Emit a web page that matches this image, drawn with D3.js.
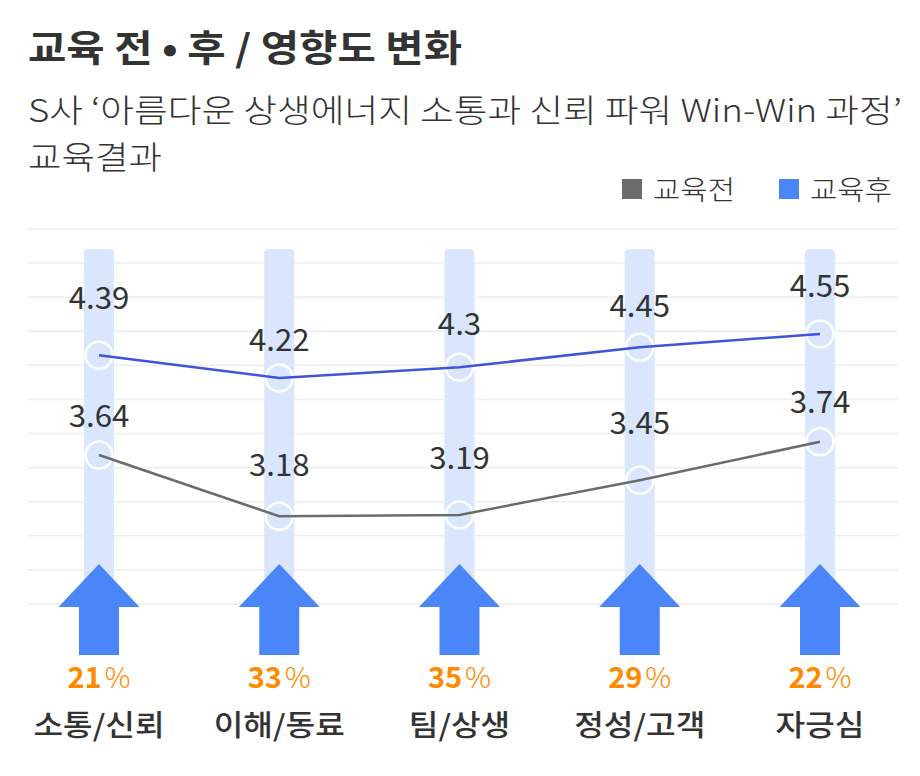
<!DOCTYPE html>
<html>
<head>
<meta charset="utf-8">
<script src="https://cdn.jsdelivr.net/npm/d3@7"></script>
<style>
  body { margin: 0; background: #fff; }
  svg { font-family: "Noto Sans CJK KR", "Noto Sans", sans-serif; display: block; }
  .title { font-size: 37px; font-weight: 700; fill: #333; }
  .subtitle { font-size: 32px; font-weight: 300; fill: #333; }
  .legend { font-size: 27px; font-weight: 300; fill: #333; }
  .value { font-size: 30px; fill: #333; }
  .pct { font-size: 29px; fill: #ff8a00; }
  .cat { font-size: 29px; font-weight: 500; fill: #333; }
</style>
</head>
<body>
<svg id="chart"></svg>
<script>
//data//
var categories = ["소통/신뢰", "이해/동료", "팀/상생", "정성/고객", "자긍심"];
var beforeValues = [3.64, 3.18, 3.19, 3.45, 3.74];
var afterValues = [4.39, 4.22, 4.3, 4.45, 4.55];
var increasePct = [21, 33, 35, 29, 22];
var seriesNames = ["교육전", "교육후"];

//how far each value label sits above its point (hand placed in original)
var beforeLift = [28, 40, 46, 46, 29];
var afterLift = [46, 27, 32, 30, 37];

var screen = { width: 920, height: 776 };
var colors = { before: "#6b6b6b", after: "#3d55d6", arrow: "#4a86f8", bar: "#d9e6fd" };

var svg = d3.select("#chart").attr("width", screen.width).attr("height", screen.height);

//original font is wider than Noto, so stretch text horizontally
var widen = function (sel, k) {
  sel.each(function () {
    var w = this.getComputedTextLength();
    d3.select(this).attr("textLength", w * k).attr("lengthAdjust", "spacingAndGlyphs");
  });
};

//titles//
svg.append("text").classed("title", true).attr("x", 28).attr("y", 62)
  .text("교육 전 • 후 / 영향도 변화")
  .attr("textLength", 434).attr("lengthAdjust", "spacingAndGlyphs");
svg.append("text").classed("subtitle", true).attr("x", 28).attr("y", 122)
  .text("S사 ‘아름다운 상생에너지 소통과 신뢰 파워 Win-Win 과정’")
  .attr("textLength", 874).attr("lengthAdjust", "spacingAndGlyphs");
svg.append("text").classed("subtitle", true).attr("x", 28).attr("y", 169)
  .text("교육결과")
  .attr("textLength", 134).attr("lengthAdjust", "spacingAndGlyphs");

//legend//
var legend = svg.append("g");
var legendX = [622, 779];
var legendColors = [colors.before, "#4a86f8"];
seriesNames.forEach(function (name, i) {
  legend.append("rect").attr("x", legendX[i]).attr("y", 179).attr("width", 20).attr("height", 20)
    .attr("fill", legendColors[i]);
  legend.append("text").classed("legend", true).attr("x", legendX[i] + 31).attr("y", 200).text(name)
    .attr("textLength", 82).attr("lengthAdjust", "spacingAndGlyphs");
});

//scales//
var xScale = d3.scalePoint().domain(categories).range([99, 820]);
var yScale = d3.scaleLinear().domain([2.5, 5.5]).range([606.7, 207.6]);

//grid lines//
var gridYs = d3.range(12).map(function (i) { return 229 + i * (604 - 229) / 11; });
svg.append("g").selectAll("line").data(gridYs).enter().append("line")
  .attr("x1", 27).attr("x2", 898)
  .attr("y1", function (d) { return d; }).attr("y2", function (d) { return d; })
  .attr("stroke", "#eeeeee").attr("stroke-width", 1.5);

//light column behind each category
svg.append("g").selectAll("path").data(categories).enter().append("path")
  .attr("fill", colors.bar)
  .attr("d", function (c) {
    var x = xScale(c) - 15, w = 30, top = 249, bot = 610, r = 4;
    return "M" + x + "," + bot + "V" + (top + r) + "Q" + x + "," + top + " " + (x + r) + "," + top +
      "H" + (x + w - r) + "Q" + (x + w) + "," + top + " " + (x + w) + "," + (top + r) + "V" + bot + "Z";
  });

//arrows//
svg.append("g").selectAll("path").data(categories).enter().append("path")
  .attr("fill", colors.arrow)
  .attr("d", function (c) {
    var cx = xScale(c);
    return "M" + cx + ",564L" + (cx + 40.5) + ",607H" + (cx + 20) + "V655H" + (cx - 20) +
      "V607H" + (cx - 40.5) + "Z";
  });

//points + lines//
var drawSeries = function (values, color, lift) {
  var pts = values.map(function (v, i) { return [xScale(categories[i]), yScale(v)]; });
  var g = svg.append("g");
  g.selectAll("circle").data(pts).enter().append("circle")
    .attr("cx", function (p) { return p[0]; }).attr("cy", function (p) { return p[1]; })
    .attr("r", 13.5).attr("fill", "none").attr("stroke", "#fff").attr("stroke-width", 2.5);
  g.append("path").attr("d", d3.line()(pts)).attr("fill", "none")
    .attr("stroke", color).attr("stroke-width", 2.5);
  var labels = g.selectAll("text").data(values).enter().append("text").classed("value", true)
    .attr("text-anchor", "middle")
    .attr("x", function (v, i) { return xScale(categories[i]); })
    .attr("y", function (v, i) { return yScale(v) - lift[i]; })
    .text(function (v) { return v; });
  widen(labels, 1.04);
};
drawSeries(beforeValues, colors.before, beforeLift);
drawSeries(afterValues, colors.after, afterLift);

//percent increase labels//
var pct = svg.append("g").selectAll("text").data(increasePct).enter().append("text")
  .classed("pct", true).attr("text-anchor", "middle")
  .attr("x", function (d, i) { return xScale(categories[i]); }).attr("y", 688);
pct.append("tspan").attr("font-weight", 700).text(function (d) { return d; });
pct.append("tspan").attr("font-weight", 300).attr("dx", 3).text("%");

//category labels//
var cats = svg.append("g").selectAll("text").data(categories).enter().append("text")
  .classed("cat", true).attr("text-anchor", "middle")
  .attr("x", function (c) { return xScale(c); }).attr("y", 736)
  .text(function (c) { return c; });
widen(cats, 1.11);
</script>
</body>
</html>
